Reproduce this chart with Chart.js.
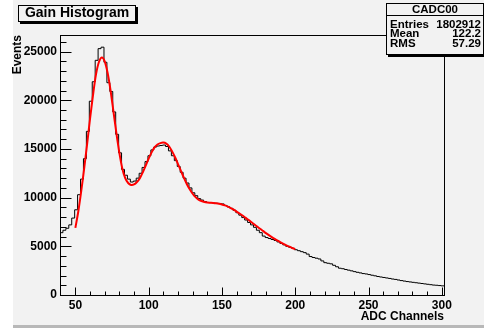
<!DOCTYPE html>
<html>
<head>
<meta charset="utf-8">
<title>Gain Histogram</title>
<script src="https://cdn.jsdelivr.net/npm/chart.js@4.4.1/dist/chart.umd.min.js"></script>
<style>
  html, body { margin: 0; padding: 0; background: #fff; }
  #gain { display: block; }
</style>
</head>
<body>
<canvas id="gain" width="484" height="328"></canvas>
<script>
// histogram: 131 bins of width 2, first low edge at 39.5
const binLow = 39.5;
const binWidth = 2;
const histValues = [
  6400, 6650, 6850, 7200, 7900, 8750, 10300, 11900, 14000, 16800,
  19900, 21900, 24100, 25300, 25450, 23900, 21800, 20900, 18800, 16500,
  14600, 12900, 12300, 11900, 11600, 11700, 12000, 12500, 13100, 13700,
  14300, 14900, 15200, 15300, 15350, 15400, 15250, 14800, 14300, 13800,
  13200, 12600, 12000, 11500, 11000, 10500, 10200, 9900, 9750, 9600,
  9500, 9480, 9450, 9420, 9400, 9350, 9200, 9050, 8900, 8700,
  8450, 8200, 7950, 7700, 7450, 7200, 6950, 6650, 6400, 6050,
  5900, 5800, 5700, 5600, 5450, 5300, 5150, 5000, 4900, 4800,
  4650, 4550, 4450, 4350, 4200, 3950, 3850, 3780, 3700, 3500,
  3320, 3260, 3200, 3050, 2900, 2750, 2700, 2620, 2550, 2480,
  2400, 2330, 2270, 2200, 2160, 2100, 2030, 1970, 1900, 1850,
  1800, 1750, 1700, 1640, 1600, 1540, 1480, 1430, 1380, 1340,
  1300, 1260, 1220, 1180, 1140, 1100, 1060, 1020, 1000, 970,
  940,
];

// fitted curve, sampled every 2 channels from 50 to 200
const fitStart = 50;
const fitStep = 2;
const fitValues = [
  6900, 8600, 10700, 13000, 15500, 18100, 20500, 22600, 23900, 24400,
  24000, 22800, 21000, 18800, 16600, 14600, 13000, 12000, 11500, 11300,
  11350, 11600, 12000, 12600, 13300, 14000, 14650, 15150, 15450, 15600,
  15650, 15550, 15250, 14750, 14150, 13450, 12750, 12050, 11400, 10850,
  10400, 10050, 9800, 9650, 9550, 9500, 9480, 9460, 9430, 9380,
  9300, 9200, 9080, 8930, 8760, 8570, 8370, 8160, 7940, 7720,
  7490, 7260, 7030, 6800, 6580, 6360, 6150, 5950, 5760, 5580,
  5410, 5250, 5100, 4960, 4830, 4700,
];

const xRange = [39.5, 301.5];
const yRange = [0, 26700];
const xTickLabels = [50, 100, 150, 200, 250, 300];
const xMinorTicks = [60, 70, 80, 90, 110, 120, 130, 140, 160, 170, 180, 190, 210, 220, 230, 240, 260, 270, 280, 290];
const yTickLabels = [0, 5000, 10000, 15000, 20000, 25000];
const yMinorTicks = [1000, 2000, 3000, 4000, 6000, 7000, 8000, 9000, 11000, 12000, 13000, 14000,
  16000, 17000, 18000, 19000, 21000, 22000, 23000, 24000, 26000];

const histTitle = 'Gain Histogram';
const statsName = 'CADC00';
const statsLabels = ['Entries', 'Mean', 'RMS'];
const statsValues = ['1802912', '122.2', '57.29'];
const xTitle = 'ADC Channels';
const yTitle = 'Events';

const FONT = "'Liberation Sans', Arial, Helvetica, sans-serif";
const BG = '#f2f2f2';

function histPoints() {
  const pts = histValues.map((v, i) => ({ x: binLow + i * binWidth, y: v }));
  pts.push({ x: binLow + histValues.length * binWidth, y: histValues[histValues.length - 1] });
  return pts;
}

function fitPoints() {
  return fitValues.map((v, i) => ({ x: fitStart + i * fitStep, y: v }));
}

function drawPave(ctx, x, y, w, h) {
  ctx.fillStyle = '#000';
  ctx.fillRect(x + 2, y + 2, w, h);
  ctx.fillStyle = BG;
  ctx.fillRect(x, y, w, h);
  ctx.strokeStyle = '#000';
  ctx.lineWidth = 1;
  ctx.strokeRect(x + 0.5, y + 0.5, w - 1, h - 1);
}

const canvasBackground = {
  id: 'canvasBackground',
  beforeDraw(chart) {
    const { ctx, width, height } = chart;
    ctx.save();
    ctx.fillStyle = '#ffffff';
    ctx.fillRect(0, 0, width, height);
    ctx.fillStyle = BG;
    ctx.fillRect(13, 0, width - 13, height - 3);
    ctx.fillStyle = '#b8b8b8';
    ctx.fillRect(13, height - 3, width - 13, 3);
    ctx.restore();
  },
};

const rootFrame = {
  id: 'rootFrame',
  afterDatasetsDraw(chart) {
    const { ctx, chartArea: a, scales: { x, y } } = chart;
    ctx.save();
    ctx.strokeStyle = '#000';
    ctx.lineWidth = 1;
    ctx.beginPath();
    // top and right frame lines
    ctx.moveTo(a.left, a.top + 0.5);
    ctx.lineTo(a.right + 0.5, a.top + 0.5);
    ctx.lineTo(a.right + 0.5, a.bottom);
    // ticks inside the frame
    const bottom = a.bottom + 0.5;
    const left = a.left + 0.5;
    xTickLabels.forEach((v) => {
      const px = Math.round(x.getPixelForValue(v)) + 0.5;
      ctx.moveTo(px, bottom);
      ctx.lineTo(px, bottom - 8);
    });
    xMinorTicks.forEach((v) => {
      const px = Math.round(x.getPixelForValue(v)) + 0.5;
      ctx.moveTo(px, bottom);
      ctx.lineTo(px, bottom - 4);
    });
    yTickLabels.forEach((v) => {
      const py = Math.round(y.getPixelForValue(v)) + 0.5;
      ctx.moveTo(left, py);
      ctx.lineTo(left + 11, py);
    });
    yMinorTicks.forEach((v) => {
      const py = Math.round(y.getPixelForValue(v)) + 0.5;
      ctx.moveTo(left, py);
      ctx.lineTo(left + 6, py);
    });
    ctx.stroke();
    ctx.restore();
  },
  afterDraw(chart) {
    const { ctx } = chart;
    ctx.save();
    // title pave
    drawPave(ctx, 18, 5, 118, 17);
    ctx.fillStyle = '#000';
    ctx.font = `bold 14px ${FONT}`;
    ctx.textAlign = 'center';
    ctx.textBaseline = 'middle';
    ctx.fillText(histTitle, 77, 13.5);

    // stats pave
    const sx = 386, sy = 3, sw = 98, sh = 52;
    drawPave(ctx, sx, sy, sw, sh);
    ctx.beginPath();
    ctx.moveTo(sx, 15.5);
    ctx.lineTo(sx + sw, 15.5);
    ctx.stroke();
    ctx.fillStyle = '#000';
    ctx.font = `bold 11.5px ${FONT}`;
    ctx.textAlign = 'center';
    ctx.fillText(statsName, sx + sw / 2, 9.5);
    statsLabels.forEach((label, i) => {
      const ty = 24.5 + i * 9.6;
      ctx.textAlign = 'left';
      ctx.fillText(label, sx + 4, ty);
      ctx.textAlign = 'right';
      ctx.fillText(statsValues[i], sx + sw - 3, ty);
    });
    ctx.restore();
  },
};

new Chart(document.getElementById('gain'), {
  type: 'line',
  data: {
    datasets: [
      {
        label: 'Fit',
        data: fitPoints(),
        borderColor: '#ff0000',
        borderWidth: 2,
        pointRadius: 0,
        tension: 0.3,
        fill: false,
        order: 0,
      },
      {
        label: statsName,
        data: histPoints(),
        borderColor: '#000000',
        borderWidth: 1,
        pointRadius: 0,
        stepped: 'before',
        fill: false,
        order: 1,
      },
    ],
  },
  options: {
    responsive: false,
    animation: false,
    devicePixelRatio: 1,
    layout: {
      padding: { top: 35, right: 40, bottom: 0, left: 0 },
    },
    plugins: {
      legend: { display: false },
      tooltip: { enabled: false },
    },
    scales: {
      x: {
        type: 'linear',
        min: xRange[0],
        max: xRange[1],
        afterBuildTicks: (scale) => {
          scale.ticks = xTickLabels.map((v) => ({ value: v }));
        },
        afterFit: (scale) => {
          scale.height = 33;
        },
        grid: { display: false, drawTicks: false },
        border: { display: true, color: '#000', width: 1 },
        ticks: {
          autoSkip: false,
          maxRotation: 0,
          padding: 3,
          color: '#000',
          font: { family: FONT, size: 12, weight: 'bold' },
          callback: (value) => String(value),
        },
        title: {
          display: true,
          text: xTitle,
          align: 'end',
          color: '#000',
          font: { family: FONT, size: 12, weight: 'bold' },
          padding: { top: 0, bottom: 4 },
        },
      },
      y: {
        type: 'linear',
        min: yRange[0],
        max: yRange[1],
        afterBuildTicks: (scale) => {
          scale.ticks = yTickLabels.map((v) => ({ value: v }));
        },
        afterFit: (scale) => {
          scale.width = 60;
        },
        grid: { display: false, drawTicks: false },
        border: { display: true, color: '#000', width: 1 },
        ticks: {
          autoSkip: false,
          padding: 3,
          color: '#000',
          font: { family: FONT, size: 12, weight: 'bold' },
          callback: (value) => String(value),
        },
        title: {
          display: true,
          text: yTitle,
          align: 'end',
          color: '#000',
          font: { family: FONT, size: 12, weight: 'bold' },
          padding: { top: 10, bottom: 0 },
        },
      },
    },
  },
  plugins: [canvasBackground, rootFrame],
});
</script>
</body>
</html>
